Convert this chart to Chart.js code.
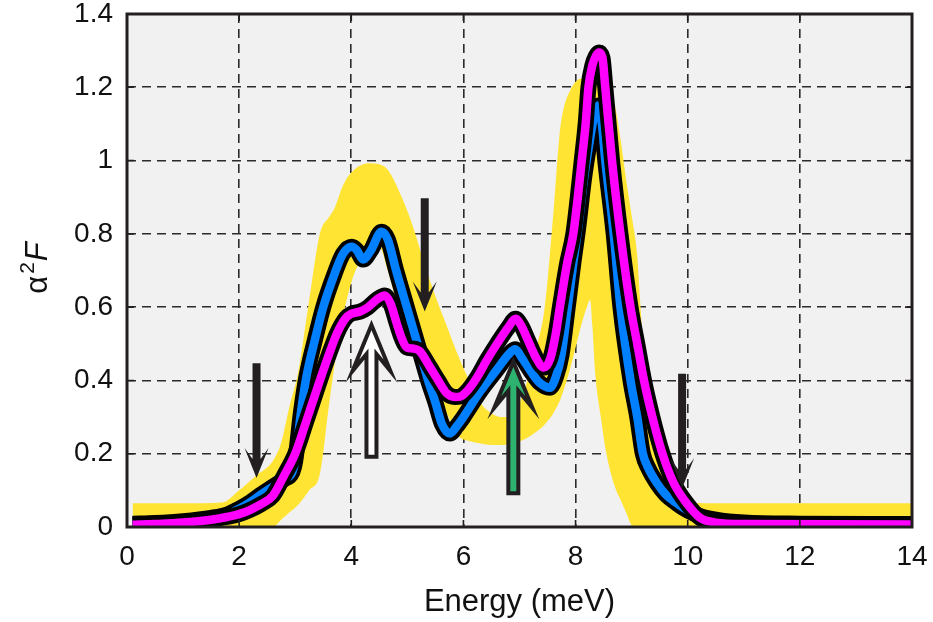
<!DOCTYPE html>
<html>
<head>
<meta charset="utf-8">
<script src="https://cdn.jsdelivr.net/npm/chart.js@4.4.1/dist/chart.umd.min.js"></script>
<style>
  html, body { margin: 0; padding: 0; background: #ffffff; }
  #wrap { width: 933px; height: 622px; }
</style>
</head>
<body>
<div id="wrap"><canvas id="c" width="933" height="622"></canvas></div>
<script>
// ---------- DATA ----------
const xTickLabels = ['0','2','4','6','8','10','12','14'];
const yTickLabels = ['0','0.2','0.4','0.6','0.8','1','1.2','1.4'];

// yellow band (lower / upper edge) on a shared energy grid
const bandX = [0.1,1.0,1.7,2.0,2.3, 2.6,2.75,2.9,3.05,3.25, 3.44,3.6,3.7,3.86,4.05, 4.3,4.5,4.65,4.9,5.1,
  5.3,5.5,5.7,5.9,6.1, 6.3,6.5,6.7,6.9,7.1, 7.3,7.45,7.6,7.72,7.8, 7.9,8.0,8.1,8.2,8.26,
  8.3,8.35,8.45,8.55,8.7, 8.8,8.9,9.0,9.1,9.15, 9.25,9.35,9.45,9.6,9.75, 10.0,10.3,14];
const bandUpper = [0.065,0.065,0.067,0.10,0.14, 0.18,0.23,0.33,0.42,0.62, 0.80,0.845,0.87,0.935,0.975,
  0.993,0.99,0.975,0.90,0.82, 0.72,0.63,0.55,0.47,0.40, 0.34,0.31,0.30,0.31,0.38,
  0.49,0.60,0.85,1.08,1.15, 1.19,1.215,1.225,1.23,1.23, 1.23,1.225,1.215,1.19,1.15,
  1.06,0.95,0.85,0.74,0.62, 0.40,0.28,0.20,0.14,0.10, 0.07,0.065,0.065];
const bandLower = [0,0,0,0,0, 0,0.02,0.04,0.06,0.10, 0.145,0.33,0.44,0.58,0.69,
  0.75,0.765,0.70,0.56,0.47, 0.40,0.345,0.31,0.25,0.235, 0.228,0.224,0.224,0.228,0.24,
  0.26,0.28,0.31,0.345,0.38, 0.43,0.49,0.55,0.60,0.62, 0.55,0.42,0.30,0.20,0.11,
  0.075,0.04,0.005,0,0, 0,0,0,0,0, 0,0,0];

// blue curve
const blueX = [0.1,0.5,1.0,1.5,1.8, 2.0,2.2,2.4,2.6,2.8, 2.95,3.0,3.1,3.2,3.35, 3.5,3.7,3.85,4.01,4.1,
  4.21,4.35,4.54,4.65,4.8, 4.99,5.2,5.37,5.5,5.62, 5.76,5.88,6.0,6.3,6.6, 6.8,6.92,7.05,7.2,7.35,
  7.54,7.65,7.75,7.86,7.96, 8.05,8.15,8.25,8.33,8.41, 8.47,8.53,8.68,8.8,8.98, 9.1,9.2,9.3,9.45,9.6,
  9.8,10.0,10.22,10.5,11, 12,14];
const blueY = [0.009,0.011,0.016,0.025,0.035, 0.05,0.068,0.09,0.11,0.13, 0.15,0.18,0.31,0.41,0.51,
  0.60,0.69,0.745,0.765,0.755, 0.73,0.755,0.806,0.785,0.70, 0.60,0.49,0.40,0.34,0.28,
  0.255,0.275,0.30,0.37,0.43, 0.47,0.485,0.46,0.425,0.395, 0.38,0.41,0.47,0.60,0.72,
  0.82,0.95,1.05,1.12,1.15, 1.10,1.0,0.8,0.6,0.4, 0.3,0.2,0.16,0.12,0.09,
  0.065,0.045,0.03,0.02,0.012, 0.009,0.008];

// magenta curve
const magentaX = [0.1,0.5,1.0,1.5,1.8, 2.0,2.2,2.4,2.6,2.8, 3.0,3.2,3.44,3.6,3.75, 3.9,4.0,4.16,4.3,4.45,
  4.6,4.7,4.81,4.9,4.99, 5.1,5.22,5.4,5.55,5.7, 5.85,5.94,6.06,6.25,6.42, 6.6,6.8,6.93,7.03,7.15,
  7.3,7.43,7.55,7.65,7.72, 7.85,7.96,8.04,8.11,8.18, 8.23,8.3,8.36,8.42,8.48, 8.53,8.65,8.8,8.98,9.1,
  9.22,9.37,9.55,9.75,9.98, 10.22,10.5,11,14];
const magentaY = [0.006,0.008,0.012,0.02,0.028, 0.035,0.047,0.063,0.085,0.14, 0.2,0.29,0.40,0.47,0.53,
  0.57,0.582,0.588,0.6,0.62, 0.632,0.61,0.556,0.515,0.49, 0.487,0.48,0.437,0.40,0.365,
  0.355,0.356,0.37,0.41,0.456, 0.50,0.545,0.568,0.55,0.51, 0.46,0.435,0.46,0.53,0.6,
  0.72,0.8,0.9,1.0,1.1, 1.2,1.26,1.285,1.295,1.28, 1.2,1.0,0.8,0.6,0.5,
  0.4,0.3,0.2,0.12,0.065, 0.025,0.012,0.008,0.007];

// annotation arrows (energy, tail value, tip value, kind)
const arrowX    = [2.31, 5.31, 9.90, 4.36, 6.89];
const arrowTail = [0.447, 0.897, 0.418, 0.192, 0.092];
const arrowTip  = [0.134, 0.588, 0.106, 0.551, 0.451];
const arrowKind = ['solid','solid','solid','hollow','green'];

// ---------- STYLE ----------
const FONT = '"Liberation Sans", Arial, Helvetica, sans-serif';
const plotBg = '#f1f1f1';
const yellow = '#ffe433';
const blue = '#0080ff';
const magenta = '#ff00ff';
const ink = '#231f20';

const pts = (xs, ys) => xs.map((v, i) => ({x: v, y: ys[i]}));

const bgPlugin = {
  id: 'bg',
  beforeDraw(chart) {
    const {ctx, chartArea: a} = chart;
    ctx.save();
    ctx.fillStyle = '#ffffff';
    ctx.fillRect(0, 0, chart.width, chart.height);
    ctx.fillStyle = plotBg;
    ctx.fillRect(a.left, a.top, a.right - a.left, a.bottom - a.top);
    ctx.restore();
  }
};

function drawArrow(ctx, X, tailY, tipY, kind) {
  const dir = tipY > tailY ? 1 : -1;  // +1 pointing down on screen
  const big = kind !== 'solid';
  const sw = big ? 10 : 8, hw = big ? 19 : 12, L = big ? 46 : 30, N = big ? 29 : 19;
  const total = Math.abs(tipY - tailY);
  const local = [[0,0],[hw,L],[sw/2,N],[sw/2,total],[-sw/2,total],[-sw/2,N],[-hw,L]];
  ctx.beginPath();
  local.forEach(([p, t], i) => {
    const px = X + p, py = tipY - dir * t;
    if (i === 0) ctx.moveTo(px, py); else ctx.lineTo(px, py);
  });
  ctx.closePath();
  if (kind === 'solid') {
    ctx.fillStyle = ink; ctx.fill();
  } else {
    ctx.fillStyle = kind === 'green' ? '#2db36f' : '#ffffff';
    ctx.fill();
    ctx.lineWidth = 4; ctx.strokeStyle = ink; ctx.lineJoin = 'miter'; ctx.stroke();
  }
}

const overlayPlugin = {
  id: 'overlay',
  afterDatasetsDraw(chart) {
    const {ctx, chartArea: a, scales: {x, y}} = chart;
    ctx.save();
    for (let i = 0; i < arrowX.length; i++) {
      drawArrow(ctx, x.getPixelForValue(arrowX[i]), y.getPixelForValue(arrowTail[i]),
        y.getPixelForValue(arrowTip[i]), arrowKind[i]);
    }
    // inward tick marks
    ctx.strokeStyle = ink; ctx.lineWidth = 1.6;
    x.ticks.forEach(t => {
      const px = x.getPixelForValue(t.value);
      ctx.beginPath(); ctx.moveTo(px, a.bottom); ctx.lineTo(px, a.bottom - 7);
      ctx.moveTo(px, a.top); ctx.lineTo(px, a.top + 7); ctx.stroke();
    });
    y.ticks.forEach(t => {
      const py = y.getPixelForValue(t.value);
      ctx.beginPath(); ctx.moveTo(a.left, py); ctx.lineTo(a.left + 7, py);
      ctx.moveTo(a.right, py); ctx.lineTo(a.right - 7, py); ctx.stroke();
    });
    // frame
    ctx.lineWidth = 3; ctx.strokeStyle = ink;
    ctx.strokeRect(a.left, a.top, a.right - a.left, a.bottom - a.top);
    ctx.restore();
  },
  afterDraw(chart) {
    const {ctx, chartArea: a} = chart;
    ctx.save();
    ctx.fillStyle = '#111111';
    // x title
    ctx.font = '31px ' + FONT;
    ctx.textAlign = 'center'; ctx.textBaseline = 'alphabetic';
    ctx.fillText('Energy (meV)', (a.left + a.right) / 2, 611);
    // y title: α²F
    ctx.translate(47, 268);
    ctx.rotate(-Math.PI / 2);
    ctx.textAlign = 'left';
    const fA = '31px ' + FONT, f2 = '21px ' + FONT, fF = 'italic 31px ' + FONT;
    ctx.font = fA; const wA = ctx.measureText('α').width;
    ctx.font = f2; const w2 = ctx.measureText('2').width;
    ctx.font = fF; const wF = ctx.measureText('F').width;
    const tot = wA + 2 + w2 + 1 + wF;
    let cx = -tot / 2;
    ctx.font = fA; ctx.fillText('α', cx, 0); cx += wA + 2;
    ctx.font = f2; ctx.fillText('2', cx, -13); cx += w2 + 1;
    ctx.font = fF; ctx.fillText('F', cx, 0);
    ctx.restore();
  }
};

const lineBase = {pointRadius: 0, cubicInterpolationMode: 'monotone', borderJoinStyle: 'round', borderCapStyle: 'butt'};

new Chart(document.getElementById('c'), {
  type: 'line',
  data: {
    datasets: [
      Object.assign({}, lineBase, {label: 'bandUpper', data: pts(bandX, bandUpper), borderWidth: 0,
        backgroundColor: yellow, fill: '+1', order: 6}),
      Object.assign({}, lineBase, {label: 'bandLower', data: pts(bandX, bandLower), borderWidth: 0,
        backgroundColor: yellow, fill: false, order: 5}),
      Object.assign({}, lineBase, {label: 'blueEdge', data: pts(blueX, blueY), borderWidth: 16,
        borderColor: '#000000', fill: false, order: 4}),
      Object.assign({}, lineBase, {label: 'blue', data: pts(blueX, blueY), borderWidth: 8.5,
        borderColor: blue, fill: false, order: 3}),
      Object.assign({}, lineBase, {label: 'magentaEdge', data: pts(magentaX, magentaY), borderWidth: 16,
        borderColor: '#000000', fill: false, order: 2}),
      Object.assign({}, lineBase, {label: 'magenta', data: pts(magentaX, magentaY), borderWidth: 8.5,
        borderColor: magenta, fill: false, order: 1})
    ]
  },
  options: {
    responsive: false,
    devicePixelRatio: 1,
    animation: false,
    events: [],
    layout: {padding: {top: 14, right: 21, left: 0, bottom: 0}},
    plugins: {legend: {display: false}, tooltip: {enabled: false}, title: {display: false}},
    scales: {
      x: {
        type: 'linear', min: 0, max: 14,
        afterFit(s) { s.height = 95; s.paddingLeft = 0; s.paddingRight = 0; },
        grid: {color: '#2b2b2b', lineWidth: 1.6, drawTicks: false},
        border: {display: false, dash: [9, 6]},
        ticks: {stepSize: 2, autoSkip: false, maxRotation: 0, padding: 13, color: '#111111',
          font: {family: FONT, size: 28},
          callback: (v, i) => xTickLabels[i]}
      },
      y: {
        type: 'linear', min: 0, max: 1.4,
        afterFit(s) { s.width = 127; s.paddingTop = 0; s.paddingBottom = 0; },
        grid: {color: '#2b2b2b', lineWidth: 1.6, drawTicks: false},
        border: {display: false, dash: [9, 6]},
        ticks: {stepSize: 0.2, autoSkip: false, padding: 14, color: '#111111',
          font: {family: FONT, size: 28},
          callback: (v, i) => yTickLabels[i]}
      }
    }
  },
  plugins: [bgPlugin, overlayPlugin]
});
</script>
</body>
</html>
